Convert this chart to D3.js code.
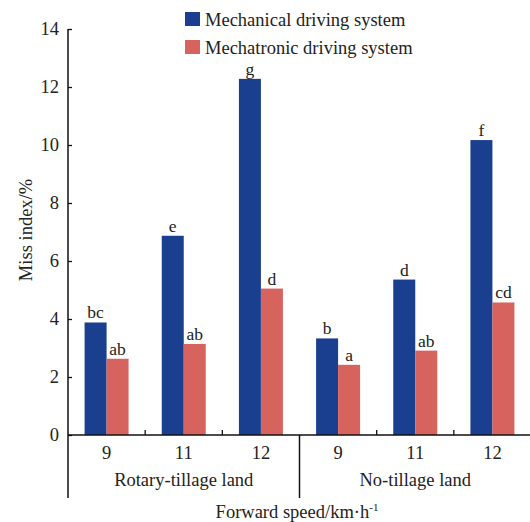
<!DOCTYPE html>
<html>
<head>
<meta charset="utf-8">
<script src="https://cdn.jsdelivr.net/npm/d3@7/dist/d3.min.js"></script>
<style>
  html, body { margin: 0; padding: 0; background: #fff; }
  svg { display: block; }
  text { font-family: "Liberation Serif", "Times New Roman", serif; fill: #222; }
</style>
</head>
<body>
<svg id="chart" width="530" height="522"></svg>
<script>
// Forward speeds within each land type
const speeds = ["9", "11", "12", "9", "11", "12"];
const lands = ["Rotary-tillage land", "No-tillage land"];
const seriesNames = ["Mechanical driving system", "Mechatronic driving system"];
// Miss index (%) per speed/land combination
const mechanical = [3.88, 6.87, 12.28, 3.33, 5.36, 10.17];
const mechatronic = [2.63, 3.14, 5.05, 2.42, 2.91, 4.57];
// Significance letters above each bar
const mechanicalLetters = ["bc", "e", "g", "b", "d", "f"];
const mechatronicLetters = ["ab", "ab", "d", "a", "ab", "cd"];
const yTicks = [0, 2, 4, 6, 8, 10, 12, 14];

const colors = ["#1b3f8f", "#d7635f"];
const fs = 18.5;

const svg = d3.select("#chart");
const plotLeft = 68, plotRight = 531, plotTop = 29, plotBottom = 435, axisEnd = 498;

const x = d3.scaleBand().domain(d3.range(speeds.length)).range([plotLeft, plotRight]);
const groupW = 44;
const inner = d3.scaleBand().domain([0, 1]).range([0, groupW]);
const y = d3.scaleLinear().domain([0, 14]).range([plotBottom, plotTop]);

const series = [mechanical, mechatronic];
const letters = [mechanicalLetters, mechatronicLetters];
const barX = (i, s) => x(i) + (x.bandwidth() - groupW) / 2 + inner(s);

// Bars and their letters
series.forEach((vals, s) => {
  svg.append("g").selectAll("rect")
    .data(vals)
    .join("rect")
    .attr("x", (d, i) => barX(i, s))
    .attr("width", inner.bandwidth())
    .attr("y", d => y(d))
    .attr("height", d => y(0) - y(d))
    .attr("fill", colors[s]);

  svg.append("g").selectAll("text")
    .data(vals)
    .join("text")
    .attr("x", (d, i) => barX(i, s) + inner.bandwidth() / 2)
    .attr("y", d => y(d) - 4)
    .attr("text-anchor", "middle")
    .attr("font-size", 17.5)
    .text((d, i) => letters[s][i]);
});

// Y axis with inward ticks
const yAxis = svg.append("g")
  .attr("transform", `translate(${plotLeft},0)`)
  .call(d3.axisLeft(y).tickValues(yTicks).tickSize(-4).tickPadding(9).tickFormat(d3.format("d")));
yAxis.select(".domain").remove();
yAxis.selectAll(".tick line").attr("stroke", "#111").attr("stroke-width", 1.3);
yAxis.selectAll(".tick text").attr("font-size", fs).attr("font-family", "Liberation Serif, serif").attr("fill", "#222");
svg.append("line")
  .attr("x1", plotLeft).attr("x2", plotLeft)
  .attr("y1", plotTop).attr("y2", axisEnd)
  .attr("stroke", "#111").attr("stroke-width", 1.5);

// X axis
svg.append("line")
  .attr("x1", plotLeft).attr("x2", plotRight)
  .attr("y1", plotBottom).attr("y2", plotBottom)
  .attr("stroke", "#111").attr("stroke-width", 1.5);

// Small upward ticks between speeds
const boundaries = d3.range(1, speeds.length).filter(i => i !== 3);
svg.append("g").selectAll("line")
  .data(boundaries)
  .join("line")
  .attr("x1", i => x(i)).attr("x2", i => x(i))
  .attr("y1", plotBottom).attr("y2", plotBottom - 5)
  .attr("stroke", "#111").attr("stroke-width", 1.3);

// Separator between the two land types
svg.append("line")
  .attr("x1", x(3)).attr("x2", x(3))
  .attr("y1", plotBottom).attr("y2", axisEnd)
  .attr("stroke", "#111").attr("stroke-width", 1.5);

// Speed labels
svg.append("g").selectAll("text")
  .data(speeds)
  .join("text")
  .attr("x", (d, i) => x(i) + x.bandwidth() / 2)
  .attr("y", 459)
  .attr("text-anchor", "middle")
  .attr("font-size", fs)
  .text(d => d);

// Land labels
svg.append("g").selectAll("text")
  .data(lands)
  .join("text")
  .attr("x", (d, i) => (x(i * 3) + x(i * 3 + 2) + x.bandwidth()) / 2)
  .attr("y", 486)
  .attr("text-anchor", "middle")
  .attr("font-size", fs)
  .text(d => d);

// X title
const xt = svg.append("text")
  .attr("x", 297)
  .attr("y", 518)
  .attr("text-anchor", "middle")
  .attr("font-size", fs);
xt.append("tspan").text("Forward speed/km·h");
xt.append("tspan").attr("dy", -7).attr("font-size", 11).text("-1");

// Y title
svg.append("text")
  .attr("transform", "translate(32,230) rotate(-90)")
  .attr("text-anchor", "middle")
  .attr("font-size", fs)
  .text("Miss index/%");

// Legend
const legend = svg.append("g");
seriesNames.forEach((name, s) => {
  legend.append("rect")
    .attr("x", 185).attr("y", 12 + s * 28)
    .attr("width", 15).attr("height", 14)
    .attr("fill", colors[s]);
  legend.append("text")
    .attr("x", 205).attr("y", 25.5 + s * 28)
    .attr("font-size", fs)
    .text(name);
});
</script>
</body>
</html>
